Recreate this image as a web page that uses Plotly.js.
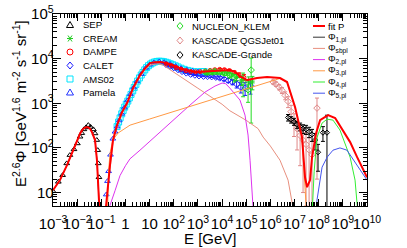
<!DOCTYPE html>
<html><head><meta charset="utf-8">
<script src="https://cdn.plot.ly/plotly-3.0.1.min.js"></script>
<style>html,body{margin:0;padding:0;background:#fff;}#chart{width:407px;height:248px;}</style>
</head><body><div id="chart"></div>
<script>
// ---------------- data (E in GeV, value = E^2.6 * flux) ----------------
const SEP_E = [1.0e-3,1.66e-3,2.5e-3,3.7e-3,5.0e-3,7.4e-3,1.02e-2,1.32e-2,1.55e-2,1.9e-2,2.34e-2,2.9e-2,3.6e-2,4.7e-2,5.5e-2,6.5e-2,7.1e-2,7.5e-2,8.0e-2];
const SEP_V = [10.7,17.4,24.5,45,69,93,126,178,214,260,288,324,295,260,211,150,89,45,22];

const PAM_E = [0.16,0.18,0.2,0.24,0.3,0.37,0.45,0.55,0.7,0.9,1.2,1.6,2.2,3.0,4.5,7,10,15,25,40,70,120,200,350,600,1000];
const PAM_V = [9,18,30,70,160,230,300,410,580,800,1150,1600,2250,3100,4500,6200,7300,8200,8600,8300,7600,6800,6100,5600,5300,5100];

const AMS_E = [0.45,0.52,0.6,0.7,0.8,0.93,1.08,1.25,1.45,1.7,2.0,2.3,2.7,3.2,3.8,4.5,5.3,6.3,7.5,9,11,13,16,20,25,31,38,47,58,72,90,115,150,200,270,370,500,700,1000,1400,1800];
const AMS_V = [300,380,470,580,690,820,960,1120,1320,1580,1900,2250,2650,3150,3700,4300,4900,5600,6300,6950,7550,8000,8400,8650,8750,8700,8550,8300,8000,7650,7300,6900,6500,6100,5750,5450,5250,5100,5050,5100,5150];

const CALET_E = [50,70,100,150,220,330,500,750,1100,1700,2500,3700,5500,8000,12000,18000,27000,40000,60000,90000,150000];
const CALET_V = [7300,6800,6300,5700,5200,4800,4500,4300,4150,4050,4000,3950,3850,3700,3500,3250,3000,2700,2300,2200,2500];
const CALET_ERR = [100,100,100,100,100,100,100,100,100,100,120,150,200,250,300,350,400,500,600,700,900];

const DAMPE_E = [50,80,125,200,320,500,800,1250,2000,3200,5000,8000,12500,20000,32000,50000,80000];
const DAMPE_V = [7600,7000,6300,5800,5400,5150,5050,5100,5250,5450,5650,5750,5650,5400,4900,4300,3800];
const DAMPE_ERR = [100,100,100,100,100,100,100,100,120,150,200,250,300,350,400,500,600];

const CREAM_E = [2500,4000,6300,10000,16000,25000,40000,63000,126000,180000];
const CREAM_V = [4600,4700,4800,4750,4600,4300,3800,3300,3000,3000];
const CREAM_ERR = [200,250,300,300,350,400,600,800,900,1000];

const NUC_E = [2000,3200,5000,8000,12600,20000,32000,74000,119000,160000];
const NUC_V = [5000,5100,5200,5000,4700,4300,3700,3000,2000,5550];
const NUC_UP = [300,300,400,400,500,600,700,1750,600,4750];
const NUC_DN = [300,300,400,400,500,600,700,1600,950,5190];

const KQ_E = [1.3e6,1.7e6,2.3e6,3.0e6,4.1e6,5.4e6,7.2e6,9.5e6,1.27e7,1.7e7,2.25e7,3.0e7,4.0e7,5.3e7,8.5e7];
const KQ_V = [3000,2700,2300,1950,1500,1100,650,380,270,190,150,120,90,70,780];
const KQ_UP = [300,300,300,300,300,300,250,200,150,120,120,100,80,70,530];
const KQ_DN = [300,300,300,300,300,300,250,200,180,150,140,115,88,69,760];

const KG_E = [5.4e6,7.2e6,9.5e6,1.27e7,1.7e7,2.25e7,3.0e7,4.0e7,5.3e7,7.1e7,9.4e7,1.5e8,2.2e8];
const KG_V = [480,430,390,330,300,270,260,230,200,150,80,220,220];
const KG_UP = [80,70,70,60,60,60,60,60,60,60,40,80,320];
const KG_DN = [80,70,70,60,60,60,60,60,60,60,50,80,219.5];

// fit and components
const FIT_E = [1e-3,1.94e-3,3.8e-3,6.1e-3,9.9e-3,1.35e-2,1.75e-2,2.3e-2,2.8e-2,3.4e-2,4.1e-2,5.5e-2,6.6e-2,7.7e-2,8.4e-2,9.0e-2,0.15,0.157,0.189,0.229,0.305,0.447,0.72,1.16,2.05,4.0,6.3,10.4,16,27,45,70,120,182,400,918,2000,4200,1.0e4,2.1e4,3.5e4,5.5e4,1.08e5,2.8e5,7.3e5,2.5e6,4.9e6,1.05e7,2.04e7,2.72e7,3.3e7,4.4e7,5.3e7,7.8e7,1.14e8,2.44e8,4.8e8,1.02e9,2.0e9,3.9e9,1.0e10];
const FIT_V = [11.3,19,41,76,150,215,265,292,292,270,226,150,53,14.7,4,0.5,0.5,5,14.7,41,150,324,635,1010,2190,4290,6000,7940,8300,8390,8100,7560,6800,6150,5400,5010,5050,5270,5450,5550,5000,4070,3310,3670,3870,3670,2990,822,175,22,13.2,19,62,214,420,543,466,251,135,62,22];

const P1_E = [1e-3,1.94e-3,3.8e-3,6.1e-3,9.9e-3,1.35e-2,1.75e-2,2.3e-2,2.8e-2,3.4e-2,4.1e-2,5.5e-2,6.6e-2,7.7e-2,8.4e-2,9.0e-2];
const P1_V = [11.3,19,41,76,150,215,265,292,292,270,226,150,53,14.7,4,0.5];

const SB_E = [0.15,0.17,0.19,0.229,0.305,0.447,0.72,1.16,2.05,4.0,6.3,10.4,16,22,36,100,1e3,1e4,2.1e4,1e5,3.1e5,5e5,1e6,2.5e6,5.4e6,8.7e6,1.1e7];
const SB_V = [1,8,13,38,140,300,580,920,1950,3950,5500,7200,7650,7700,7180,4900,2170,950,680,415,270,175,110,53,19,4.5,1];

const P2_E = [0.2,0.229,0.37,0.594,1.0,1.54,4.0,93,471,1970,5100,1.0e4,1.4e4,2.1e4,5.5e4,8.9e4,1.19e5,1.44e5,1.9e5,2.3e5];
const P2_V = [1,5.2,11,24,40,57,89,420,912,1780,2430,2840,2750,2190,1180,543,194,53,4.7,1];

const P3_E = [0.17,0.2,0.229,0.3,0.49,1.55,10,100,1e3,1e4,1e5,1e6,2.5e6,4.9e6,1.05e7,2.04e7,2.72e7,3.2e7,3.6e7];
const P3_V = [1,30,76,150,215,324,444,657,972,1440,2130,3150,3600,2950,810,170,20,4,1];

const P4_E = [4.8e7,6.5e7,8.5e7,1.38e8,2.23e8,3.9e8,7.6e8,2.0e9,3.2e9,4.3e9,5.1e9];
const P4_V = [1,30,170,360,440,420,251,62,19,4.5,1];

const P5_E = [6.5e7,8.5e7,1.38e8,2.23e8,3.9e8,7.6e8,1.48e9,3.2e9,6.2e9,1.0e10];
const P5_V = [1,6.8,37,62,89,100,89,48,29,19];

const X_TITLE = 'E [GeV]';
const Y_TITLE = 'E<sup>2.6</sup>Φ [GeV<sup>1.6</sup> m<sup>-2</sup> s<sup>-1</sup> sr<sup>-1</sup>]';

// ---------------- colours ----------------
const C = {sep:'#000000', cream:'#22cc22', dampe:'#ff0000', calet:'#1a1aff', ams:'#00e5ff', pam:'#2233ff',
  nuc:'#22dd22', kq:'#e08888', kg:'#000000', fit:'#ff0000', p1:'#333333', sb:'#e8907f', p2:'#dd33ee',
  p3:'#ff9944', p4:'#33ee33', p5:'#4455ee'};

function pts(x, y, name, sym, col, size, up, dn) {
  const t = {x, y, name, type:'scatter', mode:'markers', marker:{symbol:sym, size:size, color:col, line:{color:col, width:1}}};
  if (up) t.error_y = {type:'data', symmetric:false, array:up, arrayminus:dn || up, color:col, thickness:1, width:2};
  return t;
}
function line(x, y, name, col, w) {
  return {x, y, name, type:'scatter', mode:'lines', line:{color:col, width:w}};
}

const traces = [
  pts(AMS_E, AMS_V, 'AMS02', 'square-open', C.ams, 6),
  pts(PAM_E, PAM_V, 'Pamela', 'triangle-up-open', C.pam, 5),
  pts(CALET_E, CALET_V, 'CALET', 'diamond-open', C.calet, 5, CALET_ERR),
  pts(DAMPE_E, DAMPE_V, 'DAMPE', 'circle-open', C.dampe, 4, DAMPE_ERR),
  pts(CREAM_E, CREAM_V, 'CREAM', 'asterisk-open', C.cream, 4, CREAM_ERR),
  pts(NUC_E, NUC_V, 'NUCLEON_KLEM', 'diamond-open', C.nuc, 5, NUC_UP, NUC_DN),
  pts(KQ_E, KQ_V, 'KASCADE QGSJet01', 'diamond-open', C.kq, 5, KQ_UP, KQ_DN),
  pts(KG_E, KG_V, 'KASCADE-Grande', 'diamond-open', C.kg, 4, KG_UP, KG_DN),
  pts(SEP_E, SEP_V, 'SEP', 'triangle-up-open', C.sep, 5),
  line(SB_E, SB_V, 'Φsbpl', C.sb, 1),
  line(P2_E, P2_V, 'Φ2,pl', C.p2, 1),
  line(P3_E, P3_V, 'Φ3,pl', C.p3, 1),
  line(P4_E, P4_V, 'Φ4,pl', C.p4, 1),
  line(P5_E, P5_V, 'Φ5,pl', C.p5, 1),
  line(P1_E, P1_V, 'Φ1,pl', C.p1, 1),
  line(FIT_E, FIT_V, 'fit P', C.fit, 2)
];

// ---------------- legend and titles drawn as layout shapes/annotations ----------------
const L = 53, R = 367, T = 14, B = 206;
const fx = p => (p - L) / (R - L), fy = p => (B - p) / (B - T);
const shapes = [], annotations = [];
function poly(p, col, close) {
  shapes.push({type:'path', xref:'paper', yref:'paper', path:'M' + p.map(q => fx(q[0]) + ',' + fy(q[1])).join('L') + (close ? 'Z' : ''), line:{color:col, width:1}, fillcolor:'rgba(0,0,0,0)'});
}
const mk = {
  tri:(x,y,c)=>poly([[x,y-3.5],[x+3.5,y+2.5],[x-3.5,y+2.5]],c,true),
  dia:(x,y,c)=>poly([[x,y-3.5],[x+3,y],[x,y+3.5],[x-3,y]],c,true),
  sq:(x,y,c)=>poly([[x-3,y-3],[x+3,y-3],[x+3,y+3],[x-3,y+3]],c,true),
  circ:(x,y,c)=>shapes.push({type:'circle', xref:'paper', yref:'paper', x0:fx(x-3), x1:fx(x+3), y0:fy(y+3), y1:fy(y-3), line:{color:c,width:1}}),
  ast:(x,y,c)=>{poly([[x-3,y],[x+3,y]],c);poly([[x-2,y-3],[x+2,y+3]],c);poly([[x+2,y-3],[x-2,y+3]],c);}
};
function txt(x, y, t) {
  annotations.push({xref:'paper', yref:'paper', x:fx(x), y:fy(y), xanchor:'left', yanchor:'middle', text:t, showarrow:false, borderpad:0, font:{size:9.5, color:'#000'}});
}
const leg1 = [['SEP','tri',C.sep],['CREAM','ast',C.cream],['DAMPE','circ',C.dampe],['CALET','dia',C.calet],['AMS02','sq',C.ams],['Pamela','tri',C.pam]];
leg1.forEach((e, i) => { const y = 25 + i * 13.5; mk[e[1]](70, y, e[2]); txt(82, y, e[0]); });
const leg2 = [['NUCLEON_KLEM',C.nuc],['KASCADE QGSJet01',C.kq],['KASCADE-Grande',C.kg]];
leg2.forEach((e, i) => { const y = 26 + i * 14.5; mk.dia(180, y, e[1]); txt(191, y, e[0]); });
const leg3 = [['fit P',C.fit,2],['Φ<sub>1,pl</sub>',C.p1,1],['Φ<sub>sbpl</sub>',C.sb,1],['Φ<sub>2,pl</sub>',C.p2,1],['Φ<sub>3,pl</sub>',C.p3,1],['Φ<sub>4,pl</sub>',C.p4,1],['Φ<sub>5,pl</sub>',C.p5,1]];
leg3.forEach((e, i) => { const y = 26 + i * 11.2;
  shapes.push({type:'line', xref:'paper', yref:'paper', x0:fx(313), x1:fx(325), y0:fy(y), y1:fy(y), line:{color:e[1], width:e[2]}});
  txt(327, y, e[0]); });
// axis titles
annotations.push({xref:'paper', yref:'paper', x:fx(210), y:fy(238), xanchor:'center', yanchor:'middle', text:X_TITLE, showarrow:false, font:{size:15, color:'#000'}});
annotations.push({xref:'paper', yref:'paper', x:fx(19), y:fy(104), xanchor:'center', yanchor:'middle', textangle:-90, text:Y_TITLE, showarrow:false, font:{size:15, color:'#000'}});

const axisCommon = {type:'log', dtick:1, tick0:0, exponentformat:'power', ticks:'inside', tickwidth:1, tickcolor:'#000',
  showline:true, linecolor:'#000', linewidth:1, mirror:'allticks', showgrid:false, zeroline:false, tickangle:0,
  tickfont:{size:12}, automargin:false,
  minor:{ticks:'inside', ticklen:4, dtick:'D1', tickcolor:'#000', showgrid:false}};

const layout = {
  width:407, height:248, margin:{l:L, r:407-R, t:T, b:248-B},
  paper_bgcolor:'#fff', plot_bgcolor:'#fff', showlegend:false,
  font:{family:'Liberation Sans, Arial, sans-serif', color:'#000'},
  xaxis:Object.assign({}, axisCommon, {range:[-3,10], ticklen:7, ticklabelstandoff:5}),
  yaxis:Object.assign({}, axisCommon, {range:[Math.log10(5),5], ticklen:8, ticklabelstandoff:-4}),
  shapes, annotations
};
Plotly.newPlot('chart', traces, layout, {displayModeBar:false, staticPlot:true});
</script></body></html>
